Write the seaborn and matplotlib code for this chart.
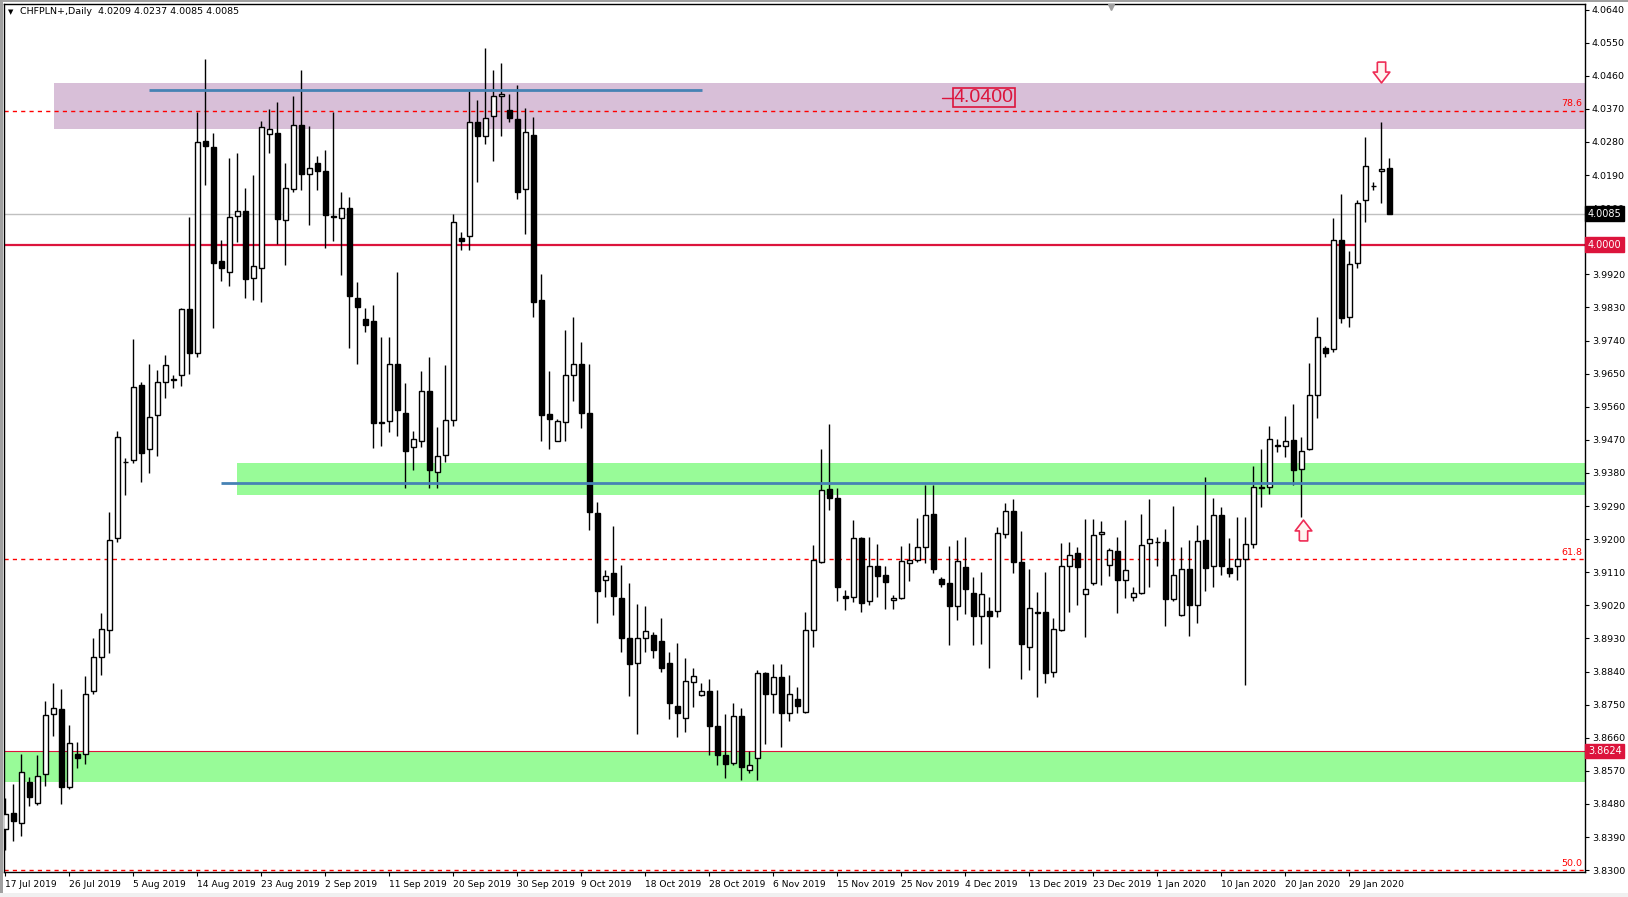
import numpy as np
import pandas as pd
import matplotlib
matplotlib.use("Agg")
import matplotlib.pyplot as plt
import matplotlib.transforms as mtransforms
from matplotlib.path import Path
from matplotlib.patches import Rectangle
import seaborn as sns

# ---------------- data (CHFPLN+ daily candles) ----------------
opens = [3.8411, 3.8456, 3.8428, 3.8539, 3.8482, 3.8561, 3.8724, 3.8738, 3.8525, 3.8617,
         3.8617, 3.8787, 3.8880, 3.8954, 3.9203, 3.9411, 3.9416, 3.9619, 3.9446, 3.9537,
         3.9626, 3.9632, 3.9647, 3.9825, 3.9707, 4.0283, 4.0267, 3.9955, 3.9927, 4.0078,
         4.0092, 3.9910, 3.9936, 4.0301, 4.0303, 4.0067, 4.0152, 4.0325, 4.0192, 4.0222,
         4.0202, 4.0078, 4.0072, 4.0100, 3.9856, 3.9798, 3.9794, 3.9518, 3.9520, 3.9677,
         3.9544, 3.9451, 3.9466, 3.9602, 3.9382, 3.9430, 3.9525, 4.0020, 4.0023, 4.0333,
         4.0296, 4.0350, 4.0404, 4.0368, 4.0341, 4.0152, 4.0300, 3.9849, 3.9539, 3.9468,
         3.9518, 3.9647, 3.9677, 3.9542, 3.9271, 3.9090, 3.9107, 3.9039, 3.8932, 3.8863,
         3.8932, 3.8940, 3.8923, 3.8863, 3.8745, 3.8715, 3.8812, 3.8776, 3.8786, 3.8691,
         3.8614, 3.8591, 3.8719, 3.8573, 3.8605, 3.8837, 3.8780, 3.8824, 3.8728, 3.8766,
         3.8731, 3.8954, 3.9139, 3.9337, 3.9311, 3.9046, 3.9042, 3.9203, 3.9031, 3.9127,
         3.9102, 3.9034, 3.9040, 3.9135, 3.9144, 3.9178, 3.9268, 3.9091, 3.9080, 3.9017,
         3.9124, 3.9053, 3.8991, 3.9004, 3.9004, 3.9213, 3.9276, 3.9138, 3.8906, 3.9001,
         3.9001, 3.8838, 3.8953, 3.9127, 3.9162, 3.9050, 3.9080, 3.9214, 3.9129, 3.9167,
         3.9088, 3.9042, 3.9053, 3.9189, 3.9192, 3.9192, 3.9036, 3.8993, 3.9118, 3.9022,
         3.9199, 3.9127, 3.9267, 3.9121, 3.9127, 3.9145, 3.9188, 3.9341, 3.9341, 3.9453,
         3.9454, 3.9469, 3.9391, 3.9445, 3.9592, 3.9719, 3.9717, 4.0013, 3.9804, 3.9952,
         4.0122, 4.0159, 4.0200, 4.0209]

highs = [3.8496, 3.8534, 3.8617, 3.8553, 3.8614, 3.8759, 3.8809, 3.8793, 3.8695, 3.8648,
         3.8827, 3.8932, 3.8998, 3.9274, 3.9494, 3.9420, 3.9743, 3.9626, 3.9676, 3.9659,
         3.9702, 3.9645, 3.9829, 4.0077, 4.0361, 4.0505, 4.0304, 4.0014, 4.0235, 4.0249,
         4.0156, 4.0191, 4.0337, 4.0370, 4.0389, 4.0223, 4.0405, 4.0476, 4.0323, 4.0242,
         4.0259, 4.0362, 4.0145, 4.0131, 3.9899, 3.9828, 3.9836, 3.9750, 3.9750, 3.9926,
         3.9625, 3.9494, 3.9657, 3.9696, 3.9505, 3.9673, 4.0085, 4.0036, 4.0418, 4.0394,
         4.0536, 4.0476, 4.0495, 4.0411, 4.0434, 4.0372, 4.0347, 3.9922, 3.9657, 3.9527,
         3.9768, 3.9804, 3.9737, 3.9676, 3.9302, 3.9117, 3.9237, 3.9131, 3.9082, 3.9025,
         3.9019, 3.8947, 3.8986, 3.8894, 3.8918, 3.8877, 3.8851, 3.8809, 3.8820, 3.8790,
         3.8724, 3.8755, 3.8741, 3.8624, 3.8844, 3.8840, 3.8861, 3.8861, 3.8830, 3.8799,
         3.9003, 3.9185, 3.9445, 3.9513, 3.9339, 3.9062, 3.9253, 3.9207, 3.9206, 3.9187,
         3.9128, 3.9049, 3.9182, 3.9189, 3.9258, 3.9347, 3.9347, 3.9098, 3.9182, 3.9198,
         3.9207, 3.9098, 3.9111, 3.9043, 3.9233, 3.9299, 3.9310, 3.9223, 3.9119, 3.9057,
         3.9111, 3.8986, 3.9190, 3.9193, 3.9179, 3.9255, 3.9255, 3.9250, 3.9175, 3.9206,
         3.9253, 3.9069, 3.9269, 3.9310, 3.9206, 3.9228, 3.9291, 3.9178, 3.9199, 3.9238,
         3.9370, 3.9313, 3.9287, 3.9203, 3.9259, 3.9260, 3.9398, 3.9445, 3.9507, 3.9473,
         3.9536, 3.9567, 3.9479, 3.9678, 3.9805, 3.9724, 4.0072, 4.0139, 3.9984, 4.0121,
         4.0294, 4.0172, 4.0335, 4.0237]

lows = [3.8354, 3.8378, 3.8392, 3.8475, 3.8478, 3.8529, 3.8664, 3.8479, 3.8522, 3.8577,
        3.8589, 3.8780, 3.8830, 3.8890, 3.9193, 3.9321, 3.9406, 3.9356, 3.9380, 3.9427,
        3.9584, 3.9612, 3.9616, 3.9650, 3.9694, 4.0162, 3.9773, 3.9903, 3.9889, 4.0009,
        3.9855, 3.9849, 3.9844, 4.0249, 4.0003, 3.9946, 4.0145, 4.0149, 4.0055, 4.0148,
        3.9991, 4.0011, 3.9917, 3.9721, 3.9676, 3.9764, 3.9449, 3.9453, 3.9491, 3.9481,
        3.9338, 3.9389, 3.9451, 3.9338, 3.9338, 3.9409, 3.9508, 3.9986, 3.9986, 4.0171,
        4.0273, 4.0227, 4.0297, 4.0333, 4.0126, 4.0031, 3.9804, 3.9466, 3.9446, 3.9466,
        3.9468, 3.9575, 3.9501, 3.9225, 3.8971, 3.9042, 3.8994, 3.8894, 3.8773, 3.8670,
        3.8894, 3.8878, 3.8840, 3.8712, 3.8662, 3.8676, 3.8743, 3.8773, 3.8614, 3.8586,
        3.8550, 3.8586, 3.8546, 3.8564, 3.8546, 3.8643, 3.8727, 3.8634, 3.8705, 3.8728,
        3.8728, 3.8908, 3.9135, 3.9278, 3.9031, 3.9008, 3.9028, 3.9003, 3.9022, 3.9044,
        3.9009, 3.9011, 3.9038, 3.9085, 3.9137, 3.9134, 3.9109, 3.9071, 3.8913, 3.8979,
        3.8996, 3.8911, 3.8915, 3.8851, 3.8987, 3.9202, 3.9109, 3.8821, 3.8843, 3.8770,
        3.8808, 3.8824, 3.8949, 3.9003, 3.9020, 3.8933, 3.9076, 3.9074, 3.9101, 3.8998,
        3.9039, 3.9031, 3.9050, 3.9069, 3.9128, 3.8963, 3.9032, 3.8990, 3.8937, 3.8972,
        3.9060, 3.9071, 3.9103, 3.9096, 3.9089, 3.8804, 3.9175, 3.9287, 3.9323, 3.9438,
        3.9422, 3.9348, 3.9259, 3.9443, 3.9530, 3.9695, 3.9710, 3.9788, 3.9777, 3.9938,
        4.0061, 4.0149, 4.0115, 4.0085]

closes = [3.8453, 3.8434, 3.8567, 3.8499, 3.8556, 3.8721, 3.8741, 3.8527, 3.8645, 3.8605,
          3.8780, 3.8880, 3.8955, 3.9197, 3.9477, 3.9410, 3.9615, 3.9434, 3.9531, 3.9626,
          3.9674, 3.9635, 3.9825, 3.9707, 4.0279, 4.0269, 3.9950, 3.9936, 4.0077, 4.0092,
          3.9906, 3.9942, 4.0320, 4.0314, 4.0070, 4.0156, 4.0327, 4.0192, 4.0209, 4.0200,
          4.0080, 4.0076, 4.0100, 3.9861, 3.9831, 3.9781, 3.9515, 3.9517, 3.9677, 3.9552,
          3.9441, 3.9473, 3.9602, 3.9389, 3.9427, 3.9525, 4.0061, 4.0010, 4.0333, 4.0297,
          4.0344, 4.0404, 4.0411, 4.0344, 4.0145, 4.0308, 3.9844, 3.9537, 3.9528, 3.9521,
          3.9647, 3.9677, 3.9542, 3.9274, 3.9060, 3.9100, 3.9046, 3.8931, 3.8860, 3.8932,
          3.8950, 3.8898, 3.8849, 3.8755, 3.8726, 3.8813, 3.8827, 3.8787, 3.8692, 3.8614,
          3.8590, 3.8719, 3.8581, 3.8587, 3.8837, 3.8780, 3.8824, 3.8728, 3.8780, 3.8745,
          3.8954, 3.9143, 3.9333, 3.9311, 3.9069, 3.9039, 3.9203, 3.9026, 3.9127, 3.9101,
          3.9083, 3.9040, 3.9140, 3.9143, 3.9178, 3.9265, 3.9120, 3.9079, 3.9017, 3.9141,
          3.9064, 3.8990, 3.9050, 3.8992, 3.9216, 3.9276, 3.9137, 3.8914, 3.9012, 3.8999,
          3.8835, 3.8955, 3.9127, 3.9156, 3.9123, 3.9064, 3.9211, 3.9219, 3.9170, 3.9088,
          3.9116, 3.9053, 3.9184, 3.9200, 3.9191, 3.9036, 3.9103, 3.9118, 3.9022, 3.9196,
          3.9121, 3.9267, 3.9128, 3.9107, 3.9145, 3.9188, 3.9341, 3.9340, 3.9473, 3.9456,
          3.9466, 3.9388, 3.9441, 3.9592, 3.9749, 3.9707, 4.0013, 3.9800, 3.9949, 4.0114,
          4.0214, 4.0160, 4.0207, 4.0085]

date_labels = ["17 Jul 2019", "26 Jul 2019", "5 Aug 2019", "14 Aug 2019", "23 Aug 2019",
               "2 Sep 2019", "11 Sep 2019", "20 Sep 2019", "30 Sep 2019", "9 Oct 2019",
               "18 Oct 2019", "28 Oct 2019", "6 Nov 2019", "15 Nov 2019", "25 Nov 2019",
               "4 Dec 2019", "13 Dec 2019", "23 Dec 2019", "1 Jan 2020", "10 Jan 2020",
               "20 Jan 2020", "29 Jan 2020"]
bars_per_label = 8

y_ticks = [3.8300, 3.8390, 3.8480, 3.8570, 3.8660, 3.8750, 3.8840, 3.8930, 3.9020,
           3.9110, 3.9200, 3.9290, 3.9380, 3.9470, 3.9560, 3.9650, 3.9740, 3.9830,
           3.9920, 4.0010, 4.0100, 4.0190, 4.0280, 4.0370, 4.0460, 4.0550, 4.0640]

last_price = 4.0085
level_round = 4.0000
level_support = 3.8624
fib_levels = [4.0365, 3.9146, 3.8300]
fib_names = ["78.6", "61.8", "50.0"]
resistance_zone = (4.0315, 4.0440)
support_zone_upper = (3.9321, 3.9407)
support_zone_lower = (3.8539, 3.8624)
top_line_price = 4.0422
mid_line_price = 3.9353
label_price = 4.0400

df = pd.DataFrame({"open": opens, "high": highs, "low": lows, "close": closes})
df["bar"] = np.arange(len(df))
df["bull"] = df["close"] >= df["open"]

# ---------------- figure ----------------
sns.set_theme(style="white")
plt.rcParams["font.family"] = ["DejaVu Sans"]

W, H = 1628, 897
fig = plt.figure(figsize=(W / 100, H / 100), dpi=100)
fig.patch.set_facecolor("white")
L_, R_, T_, B_ = 4, 1585, 4, 872
ax = fig.add_axes([L_ / W, (H - B_) / H, (R_ - L_) / W, (B_ - T_) / H])
ax.set_facecolor("white")

xmin, xmax = -0.17, 197.46
ax.set_xlim(xmin, xmax)
ax.set_ylim(3.8295, 4.0655)

# zones
ax.add_patch(Rectangle((6.08, resistance_zone[0]), xmax - 6.08,
                       resistance_zone[1] - resistance_zone[0],
                       facecolor="#D8BFD8", edgecolor="none", zorder=1))
ax.add_patch(Rectangle((28.96, support_zone_upper[0]), xmax - 28.96,
                       support_zone_upper[1] - support_zone_upper[0],
                       facecolor="#98FB98", edgecolor="none", zorder=1))
ax.add_patch(Rectangle((xmin, support_zone_lower[0]), xmax - xmin,
                       support_zone_lower[1] - support_zone_lower[0],
                       facecolor="#98FB98", edgecolor="none", zorder=1))

# horizontal levels
ax.axhline(last_price, color="#C0C0C0", lw=1.0, zorder=1.5)
ax.axhline(level_round, color="#DC143C", lw=1.6, zorder=1.5)
ax.axhline(level_support, color="#DC143C", lw=0.8, zorder=1.5)
for lvl, name in zip(fib_levels, fib_names):
    ax.axhline(lvl, color="#FF0000", lw=1.0, ls=(0, (3, 3)), zorder=1.6)
    ax.text(xmax - 0.3, lvl + 0.0006, name, color="#FF0000", fontsize=6.8,
            ha="right", va="bottom", zorder=6)

# candles: wicks then bodies
ax.vlines(df["bar"], df["low"], df["high"], color="black", lw=1.0, zorder=3)
face = np.where(df["bull"], "white", "black")
ax.bar(df["bar"], df["close"] - df["open"], bottom=df["open"], width=0.6,
       color=face, edgecolor="black", linewidth=1.0, zorder=4)

# blue trend lines
ax.plot([17.96, 87.1], [top_line_price, top_line_price], color="#4682B4", lw=2.0, zorder=5,
        solid_capstyle="butt")
ax.plot([26.96, xmax], [mid_line_price, mid_line_price], color="#4682B4", lw=2.0, zorder=5,
        solid_capstyle="butt")

# price label object
ax.plot([117.1, 118.4], [label_price, label_price], color="#DC143C", lw=1.0, zorder=6)
ax.text(122.3, label_price, "4.0400", color="#DC143C", fontsize=14,
        family="Liberation Sans", ha="center", va="center", zorder=7,
        bbox=dict(boxstyle="square,pad=0.05", fc="none", ec="#DC143C", lw=1.2))

# arrows
down_arrow = Path([(-0.2, 0.5), (0.2, 0.5), (0.2, 0.02), (0.4, 0.02), (0.0, -0.5),
                   (-0.4, 0.02), (-0.2, 0.02), (-0.2, 0.5)])
up_arrow = Path([(x, -y) for x, y in down_arrow.vertices])
ax.plot([172], [4.0471], marker=down_arrow, markersize=15, markerfacecolor="#FFF4F0",
        markeredgecolor="#EE2C55", markeredgewidth=1.2, zorder=7, clip_on=False)
ax.plot([162.2], [3.9224], marker=up_arrow, markersize=15, markerfacecolor="#FFF4F0",
        markeredgecolor="#EE2C55", markeredgewidth=1.2, zorder=7, clip_on=False)

# axes styling
for s in ax.spines.values():
    s.set_color("black")
    s.set_linewidth(1.0)
    s.set_visible(True)

ax.yaxis.tick_right()
ax.set_yticks(y_ticks)
ax.set_yticklabels([f"{v:.4f}" for v in y_ticks])
ax.tick_params(axis="y", which="both", direction="out", length=3, width=0.8,
               pad=2, labelsize=6.8, colors="black", right=True, left=False)
xt = [i * bars_per_label for i in range(len(date_labels))]
ax.set_xticks(xt)
ax.set_xticklabels(date_labels, ha="left")
ax.tick_params(axis="x", which="both", direction="out", length=3, width=0.8,
               pad=3, labelsize=6.6, colors="black", bottom=True)
for lab in ax.get_xticklabels():
    lab.set_horizontalalignment("left")
ax.grid(False)

# right-side price tags
trans = mtransforms.blended_transform_factory(ax.transAxes, ax.transData)
for price, fc in [(last_price, "black"), (level_round, "#DC143C"), (level_support, "#DC143C")]:
    ax.text(1.0018, price, f"{price:.4f}", transform=trans, ha="left", va="center",
            fontsize=7, color="white", clip_on=False, zorder=20,
            bbox=dict(boxstyle="square,pad=0.25", fc=fc, ec=fc))

# title
fig.text(8 / W, 1 - 12 / H, "\u25BC", fontsize=5, color="black", va="center", ha="left")
fig.text(20 / W, 1 - 12 / H, "CHFPLN+,Daily  4.0209 4.0237 4.0085 4.0085",
         fontsize=6.8, color="black", va="center", ha="left")

# chart-shift marker at top
ax.plot([0.7], [0.996], transform=ax.transAxes, marker="v", markersize=5,
        color="#A0A0A0", clip_on=False, zorder=10)

# window frame hints
fig.patches.append(Rectangle((0, 0), 3 / W, 1, transform=fig.transFigure,
                             facecolor="#A0A0A0", edgecolor="none"))
fig.patches.append(Rectangle((0, 1 - 2 / H), 1, 2 / H, transform=fig.transFigure,
                             facecolor="#A0A0A0", edgecolor="none"))
fig.patches.append(Rectangle((0, 0), 1, 4 / H, transform=fig.transFigure,
                             facecolor="#F0F0F0", edgecolor="none"))

fig.savefig("out.png", dpi=100)
